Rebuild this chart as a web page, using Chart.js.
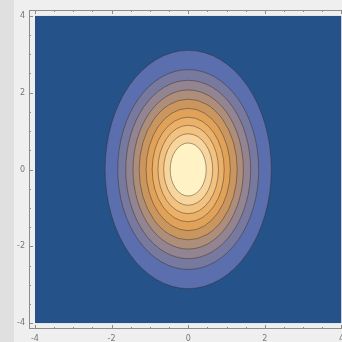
<!DOCTYPE html>
<html>
<head>
<meta charset="utf-8">
<script src="https://cdn.jsdelivr.net/npm/chart.js@4/dist/chart.umd.min.js"></script>
<style>
  html, body { margin: 0; padding: 0; width: 342px; height: 342px; overflow: hidden; background: #e0e0e0; }
  #panel { position: absolute; left: 14px; top: 0; width: 328px; height: 342px; background: #efefef; }
  #wrap { position: absolute; left: 0; top: 0; width: 349px; height: 342px; }
</style>
</head>
<body>
<div id="panel"></div>
<div id="wrap"><canvas id="c"></canvas></div>
<script>
// ── data ──
const center = { x: 0, y: 0 };
// contour ellipses, outermost first (semi-axes in plot units)
const contourRx = [2.17, 1.84, 1.63, 1.44, 1.28, 1.10, 0.94, 0.79, 0.64, 0.47];
const contourRy = [3.10, 2.60, 2.32, 2.07, 1.83, 1.59, 1.36, 1.15, 0.93, 0.69];
const bandColors = [
  '#5b6fae', '#77799e', '#928490', '#ad8e7a', '#c99660',
  '#e0a158', '#ebb169', '#f2c281', '#f7d59c', '#fff2c4'
];
const outerColor = '#26528a';
const plotRange = [-4, 4];
const tickValues = [-4, -2, 0, 2, 4];
const minorStep = 0.5;

// ── plugin: filled contour bands + frame ticks ──
const contourPlugin = {
  id: 'contours',
  beforeDatasetsDraw(chart) {
    const { ctx, scales: { x, y } } = chart;
    const x0 = x.getPixelForValue(plotRange[0]), x1 = x.getPixelForValue(plotRange[1]);
    const y0 = y.getPixelForValue(plotRange[1]), y1 = y.getPixelForValue(plotRange[0]);
    ctx.save();
    ctx.beginPath();
    ctx.rect(x0, y0, x1 - x0, y1 - y0);
    ctx.clip();
    ctx.fillStyle = outerColor;
    ctx.fillRect(x0, y0, x1 - x0, y1 - y0);
    const cx = x.getPixelForValue(center.x), cy = y.getPixelForValue(center.y);
    contourRx.forEach((rx, i) => {
      const rpx = Math.abs(x.getPixelForValue(center.x + rx) - cx);
      const rpy = Math.abs(y.getPixelForValue(center.y + contourRy[i]) - cy);
      ctx.beginPath();
      ctx.ellipse(cx, cy, rpx, rpy, 0, 0, Math.PI * 2);
      ctx.fillStyle = bandColors[i];
      ctx.fill();
      ctx.strokeStyle = 'rgba(50,40,35,0.55)';
      ctx.lineWidth = 0.8;
      ctx.stroke();
    });
    ctx.restore();
  },
  afterDatasetsDraw(chart) {
    const { ctx, chartArea: a, scales: { x, y } } = chart;
    ctx.save();
    ctx.strokeStyle = '#8c8c8c';
    ctx.lineWidth = 1;
    ctx.strokeRect(a.left + 0.5, a.top + 0.5, a.right - a.left - 1, a.bottom - a.top - 1);
    ctx.beginPath();
    for (let v = plotRange[0]; v <= plotRange[1] + 1e-9; v += minorStep) {
      const len = tickValues.includes(v) ? 4 : 2;
      const px = Math.round(x.getPixelForValue(v)) + 0.5;
      const py = Math.round(y.getPixelForValue(v)) + 0.5;
      ctx.moveTo(px, a.bottom); ctx.lineTo(px, a.bottom - len);
      ctx.moveTo(px, a.top);    ctx.lineTo(px, a.top + len);
      ctx.moveTo(a.left, py);   ctx.lineTo(a.left + len, py);
      ctx.moveTo(a.right, py);  ctx.lineTo(a.right - len, py);
    }
    ctx.stroke();
    ctx.restore();
  }
};

const tickFont = { family: 'DejaVu Sans', size: 8 };

new Chart(document.getElementById('c'), {
  type: 'scatter',
  data: { datasets: [{ data: [center], pointRadius: 0 }] },
  options: {
    responsive: true, maintainAspectRatio: false, animation: false,
    layout: { padding: { top: 10, right: 1, left: 0, bottom: 0 } },
    plugins: { legend: { display: false }, tooltip: { enabled: false } },
    scales: {
      x: {
        min: -4.156, max: 4.156,
        afterBuildTicks: s => { s.ticks = tickValues.map(v => ({ value: v })); },
        afterFit: s => { s.height = 13; },
        grid: { display: false, drawTicks: false },
        border: { display: false },
        ticks: { padding: 5, font: tickFont, color: '#777', maxRotation: 0 }
      },
      y: {
        min: -4.15, max: 4.15,
        afterBuildTicks: s => { s.ticks = tickValues.map(v => ({ value: v })); },
        afterFit: s => { s.width = 29; },
        grid: { display: false, drawTicks: false },
        border: { display: false },
        ticks: { padding: 4, font: tickFont, color: '#777' }
      }
    }
  },
  plugins: [contourPlugin]
});
</script>
</body>
</html>
